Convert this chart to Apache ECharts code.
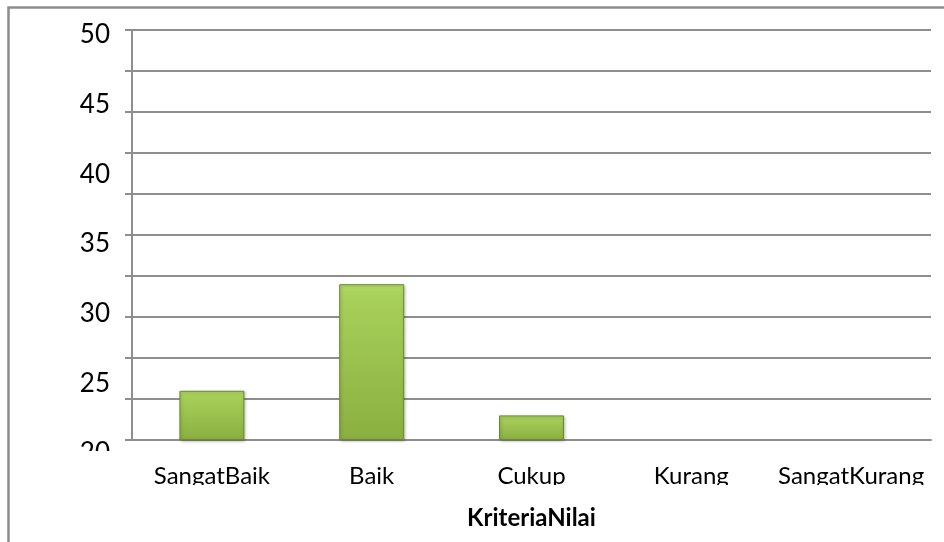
<!DOCTYPE html>
<html>
<head>
<meta charset="utf-8">
<script src="https://cdn.jsdelivr.net/npm/echarts@6/dist/echarts.min.js"></script>
<style>
  html, body { margin: 0; padding: 0; background: #fff; }
  #chart { width: 944px; height: 542px; }
</style>
</head>
<body>
<div id="chart"></div>
<script>
// Jumlah per kriteria nilai
const categories = ['SangatBaik', 'Baik', 'Cukup', 'Kurang', 'SangatKurang'];
const counts = [6, 19, 3, 0, 0];
// Skala batang dan label sumbu tegak
const barScale = [0, 50, 5];          // min, max, interval
const scoreTicks = [20, 25, 30, 35, 40, 45, 50];
const xAxisTitle = 'KriteriaNilai';

const FONT = 'Lato, "Open Sans", sans-serif';
const GRID_COLOR = '#8e8e8e';

const chart = echarts.init(document.getElementById('chart'), null, { renderer: 'canvas' });

// empty categories get no outline or shadow
const barData = counts.map(v => v === 0
  ? { value: v, itemStyle: { borderWidth: 0, shadowBlur: 0, shadowOffsetX: 0, shadowOffsetY: 0, opacity: 0 } }
  : v);

chart.setOption({
  animation: false,
  backgroundColor: '#ffffff',
  grid: [
    { left: 132, right: 13, top: 30, bottom: 102 },
    { left: 132, right: 13, top: 35, bottom: 89 }
  ],
  xAxis: [
    {
      type: 'category',
      gridIndex: 0,
      data: categories,
      axisLine: { show: true, lineStyle: { color: GRID_COLOR, width: 2 } },
      axisTick: { show: false },
      axisLabel: {
        color: '#000',
        fontFamily: FONT,
        fontSize: 24,
        margin: 24,
        interval: 0
      },
      name: xAxisTitle,
      nameLocation: 'middle',
      nameGap: 66,
      nameTextStyle: {
        color: '#000',
        fontFamily: FONT,
        fontSize: 24,
        fontWeight: 'bold'
      }
    },
    {
      type: 'value',
      gridIndex: 1,
      show: false
    }
  ],
  yAxis: [
    {
      type: 'value',
      gridIndex: 0,
      min: barScale[0],
      max: barScale[1],
      interval: barScale[2],
      axisLine: { show: true, lineStyle: { color: GRID_COLOR, width: 2 } },
      axisTick: { show: true, inside: false, length: 7, lineStyle: { color: GRID_COLOR, width: 2 } },
      axisLabel: { show: false },
      splitLine: { show: true, lineStyle: { color: GRID_COLOR, width: 2 } }
    },
    {
      type: 'value',
      gridIndex: 1,
      min: scoreTicks[0],
      max: scoreTicks[scoreTicks.length - 1],
      interval: scoreTicks[1] - scoreTicks[0],
      axisLine: { show: false },
      axisTick: { show: false },
      splitLine: { show: false },
      axisLabel: {
        color: '#000',
        fontFamily: FONT,
        fontSize: 26,
        margin: 22
      }
    }
  ],
  series: [
    {
      type: 'bar',
      xAxisIndex: 0,
      yAxisIndex: 0,
      data: barData,
      barWidth: 65,
      itemStyle: {
        color: new echarts.graphic.LinearGradient(0, 0, 0, 1, [
          { offset: 0, color: '#b2db66' },
          { offset: 0.08, color: '#a7d05a' },
          { offset: 1, color: '#8aaf40' }
        ]),
        borderColor: '#6b8a2e',
        borderWidth: 1,
        shadowColor: 'rgba(0,0,0,0.25)',
        shadowBlur: 3,
        shadowOffsetX: 1,
        shadowOffsetY: 1
      }
    }
  ],
  graphic: [
    // frame of the chart area
    {
      type: 'rect',
      z: 100,
      shape: { x: 8.5, y: 7.5, width: 1000, height: 600 },
      style: { fill: 'none', stroke: '#8c8c8c', lineWidth: 2.5 }
    },
    // text boxes cut off at their lower edge
    {
      type: 'rect',
      z: 90,
      shape: { x: 40, y: 451, width: 84, height: 14 },
      style: { fill: '#ffffff' }
    },
    {
      type: 'rect',
      z: 90,
      shape: { x: 130, y: 485, width: 814, height: 16 },
      style: { fill: '#ffffff' }
    }
  ]
});
</script>
</body>
</html>
